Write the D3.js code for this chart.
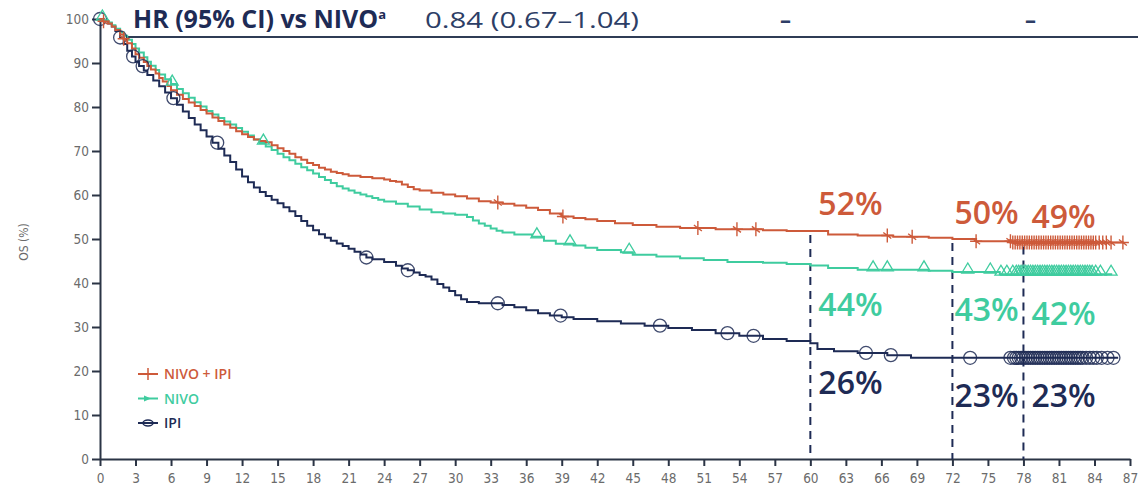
<!DOCTYPE html>
<html>
<head>
<meta charset="utf-8">
<script src="https://cdn.jsdelivr.net/npm/d3@7"></script>
<style>
    body { margin: 0; background: #fff; }
    .tick-label { font-family: "Liberation Sans Narrow", "DejaVu Sans Condensed", "Roboto", sans-serif; font-stretch: condensed; fill: #6b6b6b; font-size: 13.5px; }
    .pct { font-family: "Open Sans", "Noto Sans", sans-serif; font-weight: 600; font-size: 32px; }
</style>
</head>
<body>
<svg id="km-chart" width="1138" height="495"></svg>
<script>
    // ---- data ----
    var xTicks = [0,3,6,9,12,15,18,21,24,27,30,33,36,39,42,45,48,51,54,57,60,63,66,69,72,75,78,81,84,87];
    var yTicks = [0,10,20,30,40,50,60,70,80,90,100];

    var seriesNames = ["NIVO + IPI", "NIVO", "IPI"];

    // step curves: months / OS %
    var comboMonths = [0,0.3,0.7,1,1.3,1.7,2,2.3,2.7,3,3.3,3.7,4,4.3,4.7,5,5.3,5.7,6,6.5,7,7.5,8,8.5,9,9.5,10,10.5,11,11.5,12,12.5,13,13.5,14,14.5,15,15.5,16,16.5,17,17.5,18,18.5,19,19.5,20,20.5,21,22,23,24,24.5,25,25.5,26,26.5,27,28,29,30,31,32,33,34,35,36,37,38,39,40,41,42,43.5,45,47,49,52,56,58,61.5,64,67,70,72,74,77,86.5];
    var comboOS     = [100,99.5,99,98.3,97.5,96.5,95.5,94.5,93.3,92,91.2,90.2,89.3,88.5,87.6,86.6,85.8,84.8,83.8,82.8,81.8,81,80.2,79.3,78.5,77.6,76.8,76,75.3,74.5,73.8,73.2,72.6,72.3,72,71.3,70.6,70,69.4,68.6,68,67.3,66.8,66.2,65.8,65.3,65,64.7,64.4,64.1,63.8,63.5,63.2,63,62.4,61.8,61.3,61,60.5,60.1,59.7,59.2,58.6,58.3,58,57.6,57.1,56.6,55.8,55.1,54.8,54.5,54.1,53.6,53.2,52.8,52.5,52.2,52,51.8,51,50.8,50.5,50.3,50,49.5,49.2,49.2];

    var nivoMonths = [0,0.3,0.7,1,1.3,1.7,2,2.3,2.7,3,3.3,3.7,4,4.3,4.7,5,5.5,6,6.5,7,7.5,8,8.5,9,9.5,10,10.5,11,11.5,12,12.5,13,13.5,14,14.5,15,15.5,16,16.5,17,17.5,18,18.5,19,19.5,20,20.5,21,21.5,22,22.5,23,23.5,24,25,26,27,28,29,30,31,31.5,32,32.5,33,33.5,34,35,36.5,37.5,38.5,40,41,42,44,45,47,49,51,53,56,58,60,61.5,64,70,72,76,85.5];
    var nivoOS     = [100,99.6,99.2,98.6,97.8,97,96.2,95.3,94.3,93.3,92.4,91.3,90.3,89.4,88.4,87.4,86.3,85.2,84.1,83.1,82.1,81.1,80.1,79.1,78.3,77.5,76.7,76,75.2,74.4,73.5,72.6,71.8,71,70.2,69.4,68.6,67.9,67.1,66.3,65.6,64.9,64.1,63.4,62.7,62,61.5,61,60.5,60.1,59.7,59.3,58.9,58.5,58,57.4,56.7,56.1,55.8,55.5,55,54.2,53.5,53,52.4,51.9,51.5,51,50.5,49.6,48.9,48.5,48,47.5,47,46.4,46,45.6,45.2,44.8,44.6,44.3,44,43.4,43,42.8,42.5,42,42];

    var ipiMonths = [0,0.3,0.7,1,1.3,1.7,2,2.3,2.7,3,3.3,3.7,4,4.5,5,5.5,6,6.5,7,7.5,8,8.5,9,9.5,10,10.5,11,11.5,12,12.5,13,13.5,14,14.5,15,15.5,16,16.5,17,17.5,18,18.5,19,19.5,20,20.5,21,21.5,22,22.5,23,24,25,25.5,26,26.5,27,27.5,28,28.5,29,29.5,30,30.5,31,32,34,35,36,37,38,39,40,42,44,46,48,50,52,54,56,58,60,60.6,62,64,66.5,68.5,86];
    var ipiOS     = [100,99.5,99,98.3,97.3,95.8,94.3,92.8,91.5,90.3,89.3,88.3,87.3,86,84.7,83.3,82,80.5,79,77.5,76,74.7,73.3,71.9,70.5,69,67.5,65.8,64.2,62.9,61.7,60.7,59.8,58.9,58.1,57.2,56.3,55.2,54.1,53,52,51.1,50.3,49.6,49,48.4,47.8,47.1,46.5,45.8,45.4,44.8,43.9,43.3,42.9,42.4,41.8,41.5,40.8,39.8,39,38.2,37.2,36.3,35.7,35.4,35,34.5,33.8,33.1,32.6,32.2,31.8,31.3,30.8,30.3,29.8,29.3,28.6,28,27.3,26.8,26.3,25,24.5,24.1,23.6,23,23];

    // censoring marks (months)
    var comboCensor = [0.3,2,33.6,39.1,50.5,53.8,55.4,66.5,68.6,74,76.9,77.1,77.3,77.5,77.7,77.9,78.1,78.3,78.5,78.7,78.9,79.1,79.3,79.5,79.7,79.9,80.1,80.3,80.5,80.7,80.9,81.1,81.3,81.5,81.7,81.9,82.1,82.3,82.5,82.7,82.9,83.1,83.3,83.5,83.7,83.9,84.1,84.4,84.7,85.0,85.4,86.4];
    var nivoCensor  = [0.2,6.1,13.8,36.9,39.7,44.7,65.3,66.5,69.6,73.3,75.2,76.1,76.6,77.1,77.4,77.6,77.8,78,78.2,78.4,78.6,78.8,79,79.2,79.4,79.6,79.8,80,80.2,80.4,80.6,80.8,81,81.2,81.4,81.6,81.8,82,82.2,82.4,82.6,82.8,83,83.2,83.4,83.6,83.8,84.1,84.5,85.4];
    var ipiCensor   = [0,1.7,2.8,3.6,6.2,9.9,22.5,26,33.6,38.9,47.3,53,55.2,64.7,66.8,73.5,76.9,77.2,77.4,77.6,77.8,78,78.2,78.4,78.6,78.8,79,79.2,79.4,79.6,79.8,80,80.2,80.4,80.6,80.8,81,81.2,81.4,81.6,81.8,82,82.2,82.4,82.6,82.8,83,83.3,83.6,83.9,84.2,84.6,85.1,85.6];

    // landmark OS labels
    var landmarkMonths = [60, 72, 78];
    var comboPct = [52, 50, 49];
    var nivoPct  = [44, 43, 42];
    var ipiPct   = [26, 23, 23];

    var hrLabel = "HR (95% CI) vs NIVO";
    var hrValues = ["0.84 (0.67\u20131.04)", "\u2013", "\u2013"];

    // ---- layout ----
    var colors = { combo: "#cd5a3a", nivo: "#3fcc9f", ipi: "#1e2b55" };
    var axisColor = "#2b3445";

    var svg = d3.select("#km-chart");

    var x = d3.scaleLinear().domain([0, 87]).range([100, 1130]);
    var y = d3.scaleLinear().domain([0, 100]).range([459, 19]);

    function stepCurve(months, os){
        return months.map(function(m, i){ return [m, os[i]]; });
    }

    // value of a step curve at month m
    function osAt(months, os, m){
        var i = d3.bisectRight(months, m) - 1;
        return os[Math.max(0, i)];
    }

    var line = d3.line()
        .x(function(d){ return x(d[0]); })
        .y(function(d){ return y(d[1]); })
        .curve(d3.curveStepAfter);

    // HR header row
    svg.append("line")
        .attr("x1", 127).attr("x2", 1138)
        .attr("y1", 37).attr("y2", 37)
        .attr("stroke", "#2f3c55").attr("stroke-width", 2);

    var hr = svg.append("text")
        .attr("x", 133).attr("y", 28)
        .style("font-family", "'Open Sans', 'Noto Sans', sans-serif")
        .style("font-weight", 700)
        .style("font-size", "25px")
        .attr("fill", "#1e2b55")
        .text(hrLabel);
    hr.append("tspan")
        .attr("dy", -9)
        .style("font-size", "13px")
        .text("a");

    svg.selectAll(".hr-val")
        .data(hrValues)
        .enter()
        .append("text")
        .classed("hr-val", true)
        .attr("x", function(d, i){ return [425, 780, 1025][i]; })
        .attr("y", 28)
        .attr("textLength", function(d, i){ return i === 0 ? 214 : null; })
        .attr("lengthAdjust", "spacingAndGlyphs")
        .style("font-family", "'Open Sans', 'Noto Sans', sans-serif")
        .style("font-weight", function(d, i){ return i === 0 ? 400 : 700; })
        .style("font-size", "22px")
        .attr("fill", "#2d3e66")
        .text(function(d){ return d; });

    // axes
    var xAxis = d3.axisBottom(x).tickValues(xTicks).tickSize(7).tickSizeOuter(0).tickPadding(5);
    var yAxis = d3.axisLeft(y).tickValues(yTicks).tickSize(8).tickSizeOuter(0).tickPadding(3);

    var gx = svg.append("g")
        .attr("transform", "translate(0," + y(0) + ")")
        .call(xAxis);
    var gy = svg.append("g")
        .attr("transform", "translate(" + x(0) + ",0)")
        .call(yAxis);

    [gx, gy].forEach(function(g){
        g.select(".domain").attr("stroke", axisColor).attr("stroke-width", 2);
        g.selectAll(".tick line").attr("stroke", axisColor).attr("stroke-width", 2);
        g.selectAll(".tick text").attr("class", "tick-label").attr("fill", null);
    });
    gx.selectAll(".tick text").attr("dy", "0.9em");

    svg.append("text")
        .attr("class", "tick-label")
        .attr("transform", "translate(28,242) rotate(-90)")
        .style("text-anchor", "middle")
        .style("font-size", "12px")
        .text("OS (%)");

    // dashed landmark lines
    svg.selectAll(".landmark")
        .data(landmarkMonths)
        .enter()
        .append("line")
        .classed("landmark", true)
        .attr("x1", function(d){ return x(d); })
        .attr("x2", function(d){ return x(d); })
        .attr("y1", function(d){ return y(osAt(comboMonths, comboOS, d)) + 4; })
        .attr("y2", y(0))
        .attr("stroke", colors.ipi)
        .attr("stroke-width", 2)
        .attr("stroke-dasharray", "8,6");

    // curves
    var curves = [
        { key: "ipi", data: stepCurve(ipiMonths, ipiOS), months: ipiMonths, os: ipiOS, censor: ipiCensor },
        { key: "nivo", data: stepCurve(nivoMonths, nivoOS), months: nivoMonths, os: nivoOS, censor: nivoCensor },
        { key: "combo", data: stepCurve(comboMonths, comboOS), months: comboMonths, os: comboOS, censor: comboCensor }
    ];

    curves.forEach(function(c){
        svg.append("path")
            .datum(c.data)
            .attr("d", line)
            .attr("fill", "none")
            .attr("stroke", colors[c.key])
            .attr("stroke-width", 2);
    });

    // censor marks
    function drawMark(g, key, cx, cy){
        if(key === "combo"){
            g.append("path")
                .attr("d", "M" + cx + "," + (cy - 7) + "V" + (cy + 7) + "M" + (cx - 6) + "," + cy + "H" + (cx + 6)
                    + "M" + (cx - 4) + "," + (cy - 3) + "L" + (cx + 4) + "," + (cy + 3))
                .attr("stroke", colors.combo).attr("stroke-width", 1.4).attr("fill", "none");
        } else if(key === "nivo"){
            g.append("path")
                .attr("d", "M" + (cx - 6) + "," + (cy + 1) + "L" + cx + "," + (cy - 9) + "L" + (cx + 6) + "," + (cy + 1) + "Z")
                .attr("stroke", colors.nivo).attr("stroke-width", 1.3).attr("fill", "none");
        } else {
            g.append("circle")
                .attr("cx", cx).attr("cy", cy).attr("r", 6.5)
                .attr("stroke", colors.ipi).attr("stroke-opacity", 0.85)
                .attr("stroke-width", 1.3).attr("fill", "none");
        }
    }

    curves.forEach(function(c){
        var g = svg.append("g").classed("censor-" + c.key, true);
        c.censor.forEach(function(m){
            drawMark(g, c.key, x(m), y(osAt(c.months, c.os, m)));
        });
    });

    // landmark percentage labels
    var pctDx = [8, 2, 8];
    var pctSets = [
        { key: "combo", values: comboPct, dy: -15 },
        { key: "nivo", values: nivoPct, dy: 51 },
        { key: "ipi", values: ipiPct, dy: 49 }
    ];
    pctSets.forEach(function(s){
        svg.selectAll(".pct-" + s.key)
            .data(s.values)
            .enter()
            .append("text")
            .attr("class", "pct pct-" + s.key)
            .attr("x", function(d, i){ return x(landmarkMonths[i]) + pctDx[i]; })
            .attr("y", function(d){ return y(d) + s.dy; })
            .attr("fill", colors[s.key])
            .text(function(d){ return d + "%"; });
    });

    // legend
    var legendKeys = ["combo", "nivo", "ipi"];
    var legend = svg.append("g").attr("transform", "translate(138,374)");
    legendKeys.forEach(function(k, i){
        var ly = i * 24.5;
        legend.append("line")
            .attr("x1", 0).attr("x2", 20).attr("y1", ly).attr("y2", ly)
            .attr("stroke", colors[k]).attr("stroke-width", 2);
        if(k === "combo"){
            legend.append("path").attr("d", "M10," + (ly - 6) + "V" + (ly + 6) + "M5," + ly + "H15")
                .attr("stroke", colors.combo).attr("stroke-width", 1.5);
        } else if(k === "nivo"){
            legend.append("path").attr("d", "M6," + (ly - 3) + "L13," + ly + "L6," + (ly + 3) + "Z")
                .attr("fill", colors.nivo);
        } else {
            legend.append("ellipse").attr("cx", 10).attr("cy", ly).attr("rx", 5).attr("ry", 3)
                .attr("fill", "none").attr("stroke", colors.ipi).attr("stroke-width", 1.5);
        }
        legend.append("text")
            .attr("x", 26).attr("y", ly + 5)
            .style("font-family", "'Open Sans', 'Noto Sans', sans-serif")
            .style("font-weight", 600)
            .style("font-size", "14px")
            .attr("fill", colors[k])
            .text(seriesNames[i]);
    });
</script>
</body>
</html>
